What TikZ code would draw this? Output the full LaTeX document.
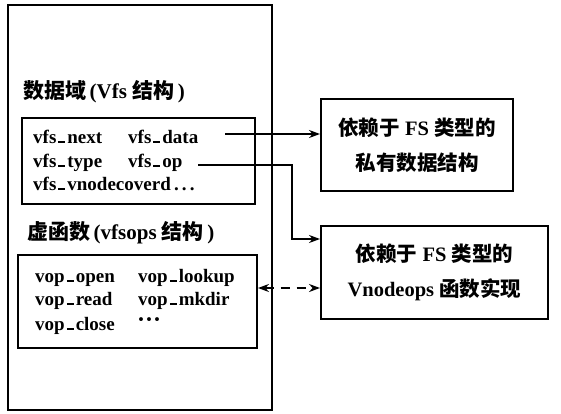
\documentclass[tikz,border=0pt]{standalone}
\usepackage{fontspec}
\setmainfont{Liberation Serif}
\newfontfamily\cjk{Noto Sans CJK SC}
\usetikzlibrary{arrows.meta}
% spaced low underscore used in the field names
\newcommand\usc{\hspace{2pt}\rule{7pt}{1.8pt}\hspace{2pt}}
\tikzset{
  frame/.style={draw, line width=2pt, inner sep=0pt},
  field/.style={anchor=base west, inner sep=0pt, font=\fontsize{19}{22}\selectfont\bfseries},
  heading/.style={anchor=base west, inner sep=0pt, font=\fontsize{21}{24}\selectfont\bfseries},
  target/.style={frame, align=center, font=\fontsize{20.5}{34.5}\selectfont\bfseries},
  link/.style={line width=2pt, -{Stealth[length=11pt,width=8pt]}},
}
\begin{document}
\begin{tikzpicture}[x=1pt,y=-1pt]
\useasboundingbox (0,0) rectangle (561,414);
% containers
\node[frame, minimum width=264, minimum height=405, anchor=north west] (outer) at (7,4) {};
\node[frame, minimum width=233, minimum height=86, anchor=north west] (data) at (21,117) {};
\node[frame, minimum width=239, minimum height=93, anchor=north west] (ops) at (17,254) {};
% FS dependent parts
\node[target, minimum width=192, minimum height=92, anchor=north west] (priv) at (320,98)
  {{\cjk\bfseries 依赖于} FS {\cjk\bfseries 类型的}\\{\cjk\bfseries 私有数据结构}};
\node[target, minimum width=227, minimum height=93, anchor=north west] (impl) at (320,225)
  {{\cjk\bfseries 依赖于} FS {\cjk\bfseries 类型的}\\Vnodeops {\cjk\bfseries 函数实现}};
% headings
\node[heading] (h1) at (23,99) {{\cjk\bfseries 数据域}\,(Vfs {\cjk\bfseries 结构}\,)};
\node[heading] (h2) at (27,239) {{\cjk\bfseries 虚函数}\,(vfsops {\cjk\bfseries 结构}\,)};
% Vfs fields
\node[field] (next) at (33,143) {vfs\usc next};
\node[field] (vdata) at (128,143) {vfs\usc data};
\node[field] (type) at (33,167) {vfs\usc type};
\node[field] (vop) at (128,167) {vfs\usc op};
\node[field] (cov) at (33,190) {vfs\usc vnodecoverd\,.\,.\,.};
% vfsops fields
\node[field] (open) at (35,282) {vop\usc open};
\node[field] (lookup) at (138,282) {vop\usc lookup};
\node[field] (read) at (35,305) {vop\usc read};
\node[field] (mkdir) at (138,305) {vop\usc mkdir};
\node[field] (close) at (35,330) {vop\usc close};
\node[field] (more) at (137,327) {\fontsize{24}{24}\selectfont ···};
% connectors
\coordinate (s1) at (225,134);
\coordinate (s2) at (198,165);
\coordinate (k2) at (292,239);
\coordinate (d) at (0,288);
\draw[link] (s1) -- (s1 -| priv.west);
\draw[link] (s2) -| (k2) -- (k2 -| impl.west);
\draw[link, {Stealth[length=11pt,width=8pt]}-{Stealth[length=11pt,width=8pt]}, dash pattern=on 9pt off 7pt]
  (d -| ops.east) -- (d -| impl.west);
\end{tikzpicture}
\end{document}
